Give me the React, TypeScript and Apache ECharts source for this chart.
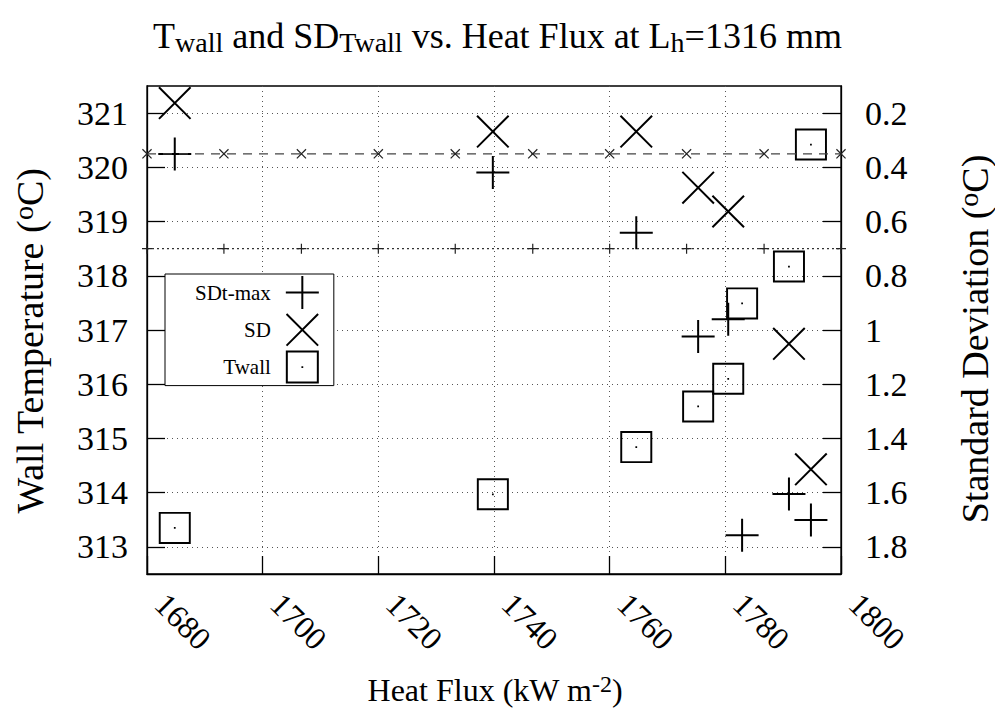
import React, { useEffect, useRef } from 'react';
import * as echarts from 'echarts';

// ---- data ----
const heatFlux = [1684.8, 1739.8, 1764.6, 1775.3, 1780.5, 1782.9, 1791.0, 1794.8];
const twall = [313.35, 313.97, 314.84, 315.59, 316.1, 317.49, 318.17, 320.42];
const sdtMax = [0.351, 0.419, 0.641, 1.024, 0.96, 1.757, 1.605, 1.701];
const sdFlux = [1684.8, 1739.8, 1764.6, 1775.3, 1780.5, 1791.0, 1794.8];
const sd = [0.163, 0.268, 0.268, 0.475, 0.563, 1.051, 1.514];
const refFlux = [1680, 1693.3, 1706.7, 1720, 1733.3, 1746.7, 1760, 1773.3, 1786.7, 1800];
const refSdLevel = [0.35, 0.35, 0.35, 0.35, 0.35, 0.35, 0.35, 0.35, 0.35, 0.35];
const refSdtLevel = [0.7, 0.7, 0.7, 0.7, 0.7, 0.7, 0.7, 0.7, 0.7, 0.7];
const leftTicks = [313, 314, 315, 316, 317, 318, 319, 320, 321];
const rightTicks = [0.2, 0.4, 0.6, 0.8, 1, 1.2, 1.4, 1.6, 1.8];

const FONT = 'Liberation Serif';

const PLUS = 'path://M15.5,0L17.5,0L17.5,33L15.5,33Z M0,15.5L33,15.5L33,17.5L0,17.5Z';
const CROSS = 'path://M1.41,0L33,31.59L31.59,33L0,1.41Z M31.59,0L33,1.41L1.41,33L0,31.59Z';
const SQUARE = 'path://M0,0L33,0L33,33L0,33Z M2,2L2,31L31,31L31,2Z M15.6,15.6L17.4,15.6L17.4,17.4L15.6,17.4Z';
const SMALL_X = 'path://M0.85,0L10,9.15L9.15,10L0,0.85Z M9.15,0L10,0.85L0.85,10L0,9.15Z';
const SMALL_PLUS = 'path://M4.4,0L5.6,0L5.6,10L4.4,10Z M0,4.4L10,4.4L10,5.6L0,5.6Z';

const zip = (xs: number[], ys: number[]) => xs.map((x, i) => [x, ys[i]]);

const subStyle = { fontSize: 28, fontFamily: FONT, color: '#000', lineHeight: 20, verticalAlign: 'bottom' };
const supBig = { fontSize: 28, fontFamily: FONT, color: '#000', lineHeight: 14, verticalAlign: 'top' };
const supSmall = { fontSize: 24, fontFamily: FONT, color: '#000', lineHeight: 14, verticalAlign: 'top' };

const option: any = {
  animation: false,
  backgroundColor: '#fff',
  textStyle: { fontFamily: FONT },
  title: {
    text: 'T{sub|wall} and SD{sub|Twall} vs. Heat Flux at L{sub|h}=1316 mm',
    left: 'center',
    top: 16,
    padding: 0,
    textStyle: {
      fontSize: 36,
      fontFamily: FONT,
      fontWeight: 'normal',
      color: '#000',
      lineHeight: 40,
      rich: { sub: subStyle },
    },
  },
  grid: {
    left: 147,
    right: 154,
    top: 86,
    bottom: 153,
    show: true,
    borderColor: '#000',
    borderWidth: 1.3,
  },
  legend: {
    orient: 'vertical',
    align: 'right',
    left: 165,
    top: 274,
    itemWidth: 33,
    itemHeight: 33,
    itemGap: 4.3,
    padding: [2, 15, 2, 30],
    borderColor: '#000',
    borderWidth: 1,
    backgroundColor: '#fff',
    selectedMode: false,
    textStyle: { fontSize: 21, fontFamily: FONT, color: '#000', padding: [0, 10, 0, 0] },
    data: [
      { name: 'SDt-max', icon: PLUS },
      { name: 'SD', icon: CROSS },
      { name: 'Twall', icon: SQUARE },
    ],
  },
  xAxis: {
    type: 'value',
    min: 1680,
    max: 1800,
    interval: 20,
    axisLine: { show: true, lineStyle: { color: '#000', width: 1.3 } },
    axisTick: { show: true, inside: true, length: 18, lineStyle: { color: '#000', width: 1.3 } },
    axisLabel: {
      rotate: -45,
      margin: 34,
      align: 'left',
      verticalAlign: 'bottom',
      padding: [0, 0, 0, 3],
      fontSize: 32,
      fontFamily: FONT,
      color: '#000',
      formatter: (v: number) => String(v),
    },
    splitLine: { show: true, lineStyle: { type: [1, 4], color: '#555', width: 1 } },
  },
  yAxis: [
    {
      type: 'value',
      position: 'left',
      min: 312.5,
      max: 321.5,
      axisLine: { show: true, lineStyle: { color: '#000', width: 1.3 } },
      axisTick: { show: true, inside: true, length: 18, customValues: leftTicks, lineStyle: { color: '#000', width: 1.3 } },
      axisLabel: { customValues: leftTicks, margin: 19, fontSize: 34, fontFamily: FONT, color: '#000', formatter: (v: number) => String(v) },
      splitLine: { show: true, lineStyle: { type: [1, 4], color: '#555', width: 1 } },
    },
    {
      type: 'value',
      position: 'right',
      inverse: true,
      min: 0.1,
      max: 1.9,
      axisLine: { show: true, lineStyle: { color: '#000', width: 1.3 } },
      axisTick: { show: true, inside: true, length: 18, customValues: rightTicks, lineStyle: { color: '#000', width: 1.3 } },
      axisLabel: { customValues: rightTicks, margin: 24, fontSize: 34, fontFamily: FONT, color: '#000', formatter: (v: number) => String(v) },
      splitLine: { show: false },
    },
  ],
  graphic: [
    {
      type: 'text',
      x: 30,
      y: 341,
      rotation: Math.PI / 2,
      style: {
        text: 'Wall Temperature ({sup|o}C)',
        fontSize: 38,
        fontFamily: FONT,
        fill: '#000',
        lineHeight: 42,
        align: 'center',
        verticalAlign: 'middle',
        rich: { sup: supBig },
      },
    },
    {
      type: 'text',
      x: 975,
      y: 339,
      rotation: Math.PI / 2,
      style: {
        text: 'Standard Deviation ({sup|o}C)',
        fontSize: 38,
        fontFamily: FONT,
        fill: '#000',
        lineHeight: 42,
        align: 'center',
        verticalAlign: 'middle',
        rich: { sup: supBig },
      },
    },
    {
      type: 'text',
      x: 495,
      y: 690,
      style: {
        text: 'Heat Flux (kW m{sup|-2})',
        fontSize: 32,
        fontFamily: FONT,
        fill: '#000',
        lineHeight: 36,
        align: 'center',
        verticalAlign: 'middle',
        rich: { sup: supSmall },
      },
    },
  ],
  series: [
    {
      name: 'ref-sd',
      type: 'line',
      yAxisIndex: 1,
      silent: true,
      data: zip(refFlux, refSdLevel),
      symbol: SMALL_X,
      symbolSize: 10,
      itemStyle: { color: '#222' },
      lineStyle: { color: '#444', width: 1.2, type: [9, 7] },
    },
    {
      name: 'ref-sdt',
      type: 'line',
      yAxisIndex: 1,
      silent: true,
      data: zip(refFlux, refSdtLevel),
      symbol: SMALL_PLUS,
      symbolSize: 10,
      itemStyle: { color: '#222' },
      lineStyle: { color: '#333', width: 1.3, type: [2, 3] },
    },
    {
      name: 'SDt-max',
      type: 'scatter',
      yAxisIndex: 1,
      data: zip(heatFlux, sdtMax),
      symbol: PLUS,
      symbolSize: 33,
      itemStyle: { color: '#000', opacity: 1 },
    },
    {
      name: 'SD',
      type: 'scatter',
      yAxisIndex: 1,
      data: zip(sdFlux, sd),
      symbol: CROSS,
      symbolSize: 33,
      itemStyle: { color: '#000', opacity: 1 },
    },
    {
      name: 'Twall',
      type: 'scatter',
      yAxisIndex: 0,
      data: zip(heatFlux, twall),
      symbol: SQUARE,
      symbolSize: 32,
      itemStyle: { color: '#000', opacity: 1 },
    },
  ],
};

export default function App() {
  const ref = useRef<HTMLDivElement>(null);
  useEffect(() => {
    const chart = echarts.init(ref.current!, undefined, { renderer: 'svg' });
    chart.setOption(option);
    return () => chart.dispose();
  }, []);
  return (
    <div
      ref={ref}
      style={{ position: 'absolute', left: 0, top: 0, width: 995, height: 727, background: '#fff' }}
    />
  );
}
